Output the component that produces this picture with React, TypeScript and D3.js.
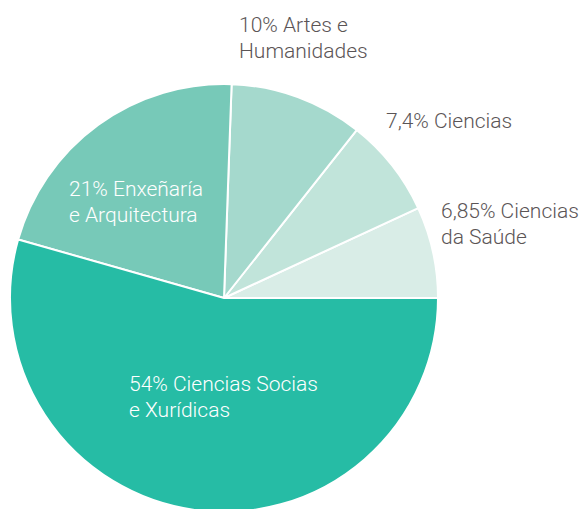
import * as React from "react"
import * as d3 from "d3"

const WIDTH = 582
const HEIGHT = 509

// areas, in the order drawn counterclockwise from 3 o'clock
const categories = [
  ["6,85% Ciencias", "da Saúde"],
  ["7,4% Ciencias"],
  ["10% Artes e", "Humanidades"],
  ["21% Enxeñaría", "e Arquitectura"],
  ["54% Ciencias Socias", "e Xurídicas"],
]
const shares = [6.85, 7.4, 10, 21, 54]
const colors = ["#d9ede7", "#c1e4da", "#a5d9cd", "#77c9b8", "#26bca5"]

// where each label sits, relative to the pie centre
const labelAt = [
  { x: 217, y: -80, fill: "#5b5556" },
  { x: 162, y: -170, fill: "#5b5556" },
  { x: 15, y: -266, fill: "#5b5556" },
  { x: -155, y: -102, fill: "#ffffff" },
  { x: -95, y: 93, fill: "#ffffff" },
]

export default function App() {
  const cx = 224
  const cy = 298
  const r = 214

  const pie = d3
    .pie<number>()
    .sort(null)
    .startAngle(Math.PI / 2)
    .endAngle(Math.PI / 2 - 2 * Math.PI)
  const arc = d3.arc<d3.PieArcDatum<number>>().innerRadius(0).outerRadius(r)
  const arcs = pie(shares)

  return (
    <svg
      width={WIDTH}
      height={HEIGHT}
      style={{ position: "absolute", left: 0, top: 0, background: "#fff" }}
    >
      <g transform={`translate(${cx},${cy})`}>
        {arcs.map((a, i) => (
          <path
            key={i}
            d={arc(a) || ""}
            fill={colors[i]}
            stroke="#fff"
            strokeWidth={2}
            strokeLinejoin="round"
          />
        ))}
        {categories.map((lines, i) => (
          <text
            key={"t" + i}
            x={labelAt[i].x}
            y={labelAt[i].y}
            fill={labelAt[i].fill}
            fontFamily="Roboto, sans-serif"
            fontWeight={300}
            fontSize={21}
          >
            {lines.map((l, j) => (
              <tspan key={j} x={labelAt[i].x} dy={j === 0 ? 0 : 25.5}>
                {l}
              </tspan>
            ))}
          </text>
        ))}
      </g>
    </svg>
  )
}
